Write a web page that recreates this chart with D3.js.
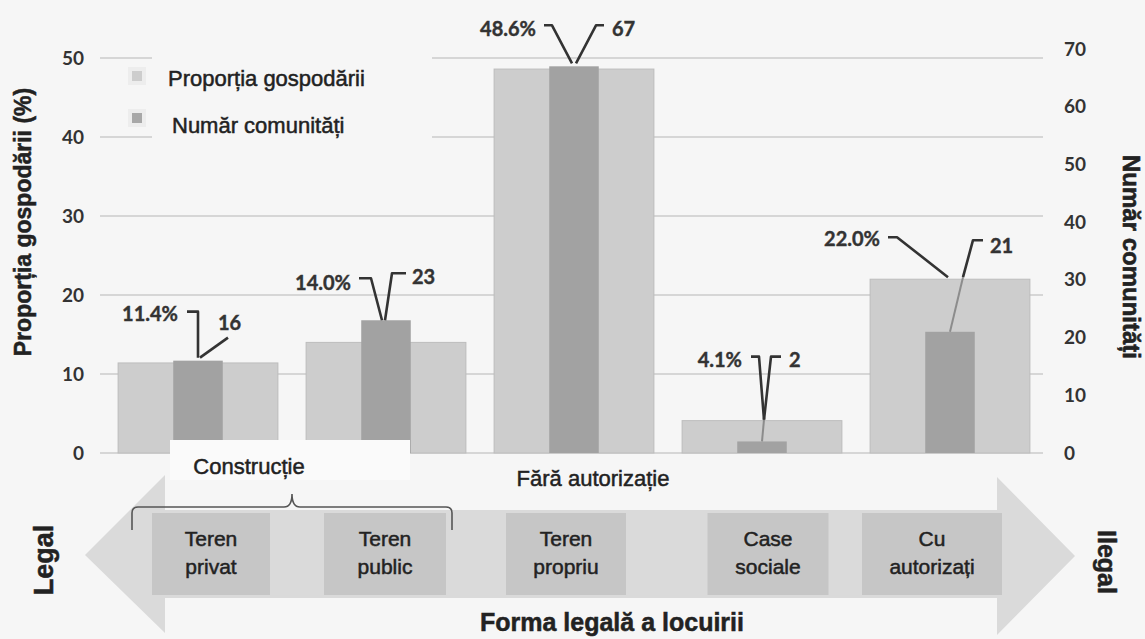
<!DOCTYPE html>
<html>
<head>
<meta charset="utf-8">
<script src="https://cdn.jsdelivr.net/npm/d3@7/dist/d3.min.js"></script>
<style>
  html, body { margin: 0; padding: 0; background: #f6f6f6; }
  svg { display: block; }
</style>
</head>
<body>
<svg id="chart" width="1145" height="639"></svg>
<script>
// ---------------- DATA ----------------
const categories = ["Teren privat", "Teren public", "Teren propriu", "Case sociale", "Cu autorizați"];
const categoryLines = [["Teren", "privat"], ["Teren", "public"], ["Teren", "propriu"], ["Case", "sociale"], ["Cu", "autorizați"]];
const proportion = [11.4, 14.0, 48.6, 4.1, 22.0];       // Proporția gospodării (%)
const communities = [16, 23, 67, 2, 21];                 // Număr comunități
const leftTicks = [0, 10, 20, 30, 40, 50];
const rightTicks = [0, 10, 20, 30, 40, 50, 60, 70];
const seriesNames = ["Proporția gospodării", "Număr comunități"];
const groupLabels = ["Construcție", "Fără autorizație"];
const leftTitle = "Proporția gospodării (%)";
const rightTitle = "Număr comunități";
const bottomTitle = "Forma legală a locuirii";
const endLabels = ["Legal", "Ilegal"];

// ---------------- LAYOUT (annotation offsets, px) ----------------
// offsets relative to (category centre, top of taller bar)
const pctLabelOff = [[-20, -48], [-35, -38], [-38, -38], [-20, -62], [-70, -41]];
const pctLeader = [
  [[-11, -49], [0, -49], [0, -3]],
  [[-27, -42], [-15, -42], [-4, 0]],
  [[-30, -41], [-22, -41], [-2, -3]],
  [[-11, -64], [-3, -64], [2, -1]],
  [[-62, -42], [-53, -42], [-2, -2]]
];
const cntLabelOff = [[20, -39], [26, -44], [38, -38], [27, -62], [40, -34]];
const cntLeader = [
  [[30, -23], [2, -3]],
  [[20, -47], [6, -47], [-1, 0]],
  [[30, -41], [22, -41], [2, -3]],
  [[19, -64], [9, -64], [2, -1]],
  [[33, -39], [23, -39], [13, -2]]
];
const boxCentres = [211, 385, 566, 768, 932];
const boxWidths = [118, 122, 120, 121, 140];

const svg = d3.select("#chart");
const W = 1145, H = 639;
svg.append("rect").attr("width", W).attr("height", H).attr("fill", "#f6f6f6");

const x = d3.scaleBand().domain(categories).range([104, 1044]).paddingInner(0.15).paddingOuter(0.075);
const yL = d3.scaleLinear().domain([0, 50]).range([453, 58]);
const yR = d3.scaleLinear().domain([0, 70]).range([453, 49]);
const darkW = x.bandwidth() * 0.31;

const textCol = "#222";
const sans = "Liberation Sans, Arial, sans-serif";

// ---------- gridlines ----------
svg.append("g").selectAll("line").data(leftTicks).join("line")
  .attr("x1", 100).attr("x2", 1043)
  .attr("y1", d => yL(d)).attr("y2", d => yL(d))
  .attr("stroke", "#d6d6d6").attr("stroke-width", 2);

// legend background hides gridlines
svg.append("rect").attr("x", 152).attr("y", 48).attr("width", 280).attr("height", 98).attr("fill", "#f6f6f6");

// ---------- axes ----------
const axL = svg.append("g").attr("transform", "translate(86,0)")
  .call(d3.axisLeft(yL).tickValues(leftTicks).tickSize(0).tickPadding(2));
axL.select(".domain").remove();
axL.selectAll("text").attr("font-family", "Lato, sans-serif").attr("font-weight", 700)
  .attr("font-size", 19).attr("fill", "#333");

const axR = svg.append("g").attr("transform", "translate(1062,0)")
  .call(d3.axisRight(yR).tickValues(rightTicks).tickSize(0).tickPadding(2));
axR.select(".domain").remove();
axR.selectAll("text").attr("font-family", "Lato, sans-serif").attr("font-weight", 700)
  .attr("font-size", 19).attr("fill", "#333");

// ---------- bars ----------
const data = categories.map((c, i) => ({ c, i, p: proportion[i], n: communities[i] }));

svg.append("g").selectAll("rect").data(data).join("rect")
  .attr("x", d => x(d.c)).attr("width", x.bandwidth())
  .attr("y", d => yL(d.p)).attr("height", d => yL(0) - yL(d.p))
  .attr("fill", "#cdcdcd").attr("stroke", "#bdbdbd").attr("stroke-width", 1);

svg.append("g").selectAll("rect").data(data).join("rect")
  .attr("x", d => x(d.c) + x.bandwidth() / 2 - darkW / 2).attr("width", darkW)
  .attr("y", d => yR(d.n)).attr("height", d => yR(0) - yR(d.n))
  .attr("fill", "#a2a2a2");

// white box behind "Construcție"
svg.append("rect").attr("x", 170).attr("y", 440).attr("width", 240).attr("height", 40).attr("fill", "#fafafa");

// ---------- data labels + leaders ----------
const line = d3.line();
const lab = svg.append("g");
data.forEach(d => {
  const cx = x(d.c) + x.bandwidth() / 2;
  const top = Math.min(yL(d.p), yR(d.n));
  const pts1 = pctLeader[d.i].map(p => [cx + p[0], top + p[1]]);
  const pts2 = cntLeader[d.i].map(p => [cx + p[0], top + p[1]]);
  if (yR(d.n) > yL(d.p)) {
    const last = pts2[pts2.length - 1];
    lab.append("path").attr("d", line([last, [cx, yR(d.n)]]))
      .attr("fill", "none").attr("stroke", "#8c8c8c").attr("stroke-width", 2);
  }
  [pts1, pts2].forEach(pts => lab.append("path").attr("d", line(pts))
    .attr("fill", "none").attr("stroke", "#333").attr("stroke-width", 2.6)
    .attr("stroke-linejoin", "round"));
  lab.append("text").attr("x", cx + pctLabelOff[d.i][0]).attr("y", top + pctLabelOff[d.i][1])
    .attr("text-anchor", "end").attr("dominant-baseline", "central")
    .attr("font-family", "Lato, sans-serif").attr("font-weight", 700).attr("font-size", 20)
    .attr("fill", "#333").attr("stroke", "#333").attr("stroke-width", 0.4)
    .text(d3.format(".1f")(d.p) + "%");
  lab.append("text").attr("x", cx + cntLabelOff[d.i][0]).attr("y", top + cntLabelOff[d.i][1])
    .attr("text-anchor", "start").attr("dominant-baseline", "central")
    .attr("font-family", "Lato, sans-serif").attr("font-weight", 700).attr("font-size", 20)
    .attr("fill", "#333").attr("stroke", "#333").attr("stroke-width", 0.4)
    .text(d.n);
});

// ---------- legend ----------
const legColors = ["#cdcdcd", "#a8a8a8"];
const legY = [76, 118];
const legTextX = [168, 172];
seriesNames.forEach((s, i) => {
  svg.append("rect").attr("x", 128).attr("y", legY[i] - 9).attr("width", 18).attr("height", 18).attr("fill", "#ededed");
  svg.append("rect").attr("x", 132).attr("y", legY[i] - 5).attr("width", 10).attr("height", 10).attr("fill", legColors[i]);
  svg.append("text").attr("x", legTextX[i]).attr("y", legY[i] + 2 + i * 5)
    .attr("dominant-baseline", "central")
    .attr("font-family", sans).attr("font-size", 22)
    .attr("fill", textCol).attr("stroke", textCol).attr("stroke-width", 0.5).text(s);
});

// ---------- axis titles ----------
svg.append("text").attr("transform", "translate(23,222) rotate(-90)")
  .attr("text-anchor", "middle").attr("dominant-baseline", "central")
  .attr("font-family", sans).attr("font-weight", 700).attr("font-size", 23)
  .attr("fill", textCol).attr("stroke", textCol).attr("stroke-width", 0.5).text(leftTitle);
svg.append("text").attr("transform", "translate(1131,257) rotate(90)")
  .attr("text-anchor", "middle").attr("dominant-baseline", "central")
  .attr("font-family", sans).attr("font-weight", 700).attr("font-size", 24)
  .attr("fill", textCol).attr("stroke", textCol).attr("stroke-width", 0.6).text(rightTitle);

// ---------- bottom arrow ----------
const arrowPts = [[85, 555], [165, 475], [165, 510], [997, 510], [997, 477], [1075, 556],
  [997, 635], [997, 598], [165, 598], [165, 633]];
svg.append("path").attr("d", d3.line()(arrowPts) + "Z").attr("fill", "#dadada");

svg.append("g").selectAll("rect").data(categories).join("rect")
  .attr("x", (d, i) => boxCentres[i] - boxWidths[i] / 2).attr("width", (d, i) => boxWidths[i])
  .attr("y", 513).attr("height", 82).attr("fill", "#c6c6c6");

categories.forEach((c, i) => {
  const t = svg.append("text").attr("x", boxCentres[i]).attr("y", 538)
    .attr("text-anchor", "middle").attr("dominant-baseline", "central")
    .attr("font-family", sans).attr("font-size", 21).attr("fill", textCol)
    .attr("stroke", textCol).attr("stroke-width", 0.5);
  categoryLines[i].forEach((l, j) => t.append("tspan").attr("x", boxCentres[i]).attr("dy", j === 0 ? 0 : 28).text(l));
});

// bracket for Construcție
svg.append("path")
  .attr("d", "M132,530 L132,513 Q132,507 138,507 L284,507 Q292,507 292,494 Q292,507 300,507 L446,507 Q452,507 452,513 L452,530")
  .attr("fill", "none").attr("stroke", "#555").attr("stroke-width", 1.6);

svg.append("text").attr("x", 249).attr("y", 466).attr("text-anchor", "middle").attr("dominant-baseline", "central")
  .attr("font-family", sans).attr("font-size", 22).attr("fill", textCol)
  .attr("stroke", textCol).attr("stroke-width", 0.5).text(groupLabels[0]);
svg.append("text").attr("x", 593).attr("y", 478).attr("text-anchor", "middle").attr("dominant-baseline", "central")
  .attr("font-family", sans).attr("font-size", 22).attr("fill", textCol)
  .attr("stroke", textCol).attr("stroke-width", 0.5).text(groupLabels[1]);

svg.append("text").attr("x", 612).attr("y", 622).attr("text-anchor", "middle").attr("dominant-baseline", "central")
  .attr("font-family", sans).attr("font-weight", 700).attr("font-size", 25)
  .attr("fill", textCol).attr("stroke", textCol).attr("stroke-width", 0.5).text(bottomTitle);

svg.append("text").attr("transform", "translate(44,560) rotate(-90)")
  .attr("text-anchor", "middle").attr("dominant-baseline", "central")
  .attr("font-family", sans).attr("font-weight", 700).attr("font-size", 27)
  .attr("fill", textCol).attr("stroke", textCol).attr("stroke-width", 0.5).text(endLabels[0]);
svg.append("text").attr("transform", "translate(1107,562) rotate(90)")
  .attr("text-anchor", "middle").attr("dominant-baseline", "central")
  .attr("font-family", sans).attr("font-weight", 700).attr("font-size", 25)
  .attr("fill", textCol).attr("stroke", textCol).attr("stroke-width", 0.5).text(endLabels[1]);
</script>
</body>
</html>
